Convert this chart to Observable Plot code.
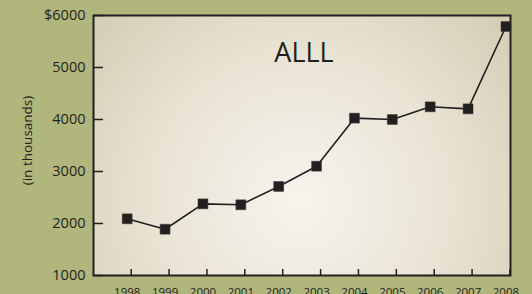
<!DOCTYPE html>
<html>
<head>
<meta charset="utf-8">
<script src="https://cdn.jsdelivr.net/npm/d3@7"></script>
<script src="https://cdn.jsdelivr.net/npm/@observablehq/plot@0.6"></script>
<style>
  html, body { margin: 0; padding: 0; background: #b1b67c; }
  #chart { width: 532px; height: 294px; overflow: hidden; }
</style>
</head>
<body>
<div id="chart"></div>
<script>
const years = [1998, 1999, 2000, 2001, 2002, 2003, 2004, 2005, 2006, 2007, 2008];
const values = [2090, 1890, 2378, 2360, 2712, 3102, 4026, 4000, 4244, 4205, 5788];
const yTicks = [1000, 2000, 3000, 4000, 5000, 6000];
const chartTitle = "ALLL";
const yLabel = "(in thousands)";

const data = years.map((y, i) => ({year: y, value: values[i]}));
const ink = "#231f20";
const font = "'Open Sans', sans-serif";

const plot = Plot.plot({
  width: 532,
  height: 294,
  marginLeft: 93,
  marginRight: 22,
  marginTop: 15,
  marginBottom: 19,
  style: {background: "transparent", fontFamily: font, color: ink},
  x: {type: "linear", domain: [1997.11, 2008.12], label: null},
  y: {domain: [1000, 6000], label: null},
  marks: [
    Plot.frame({fill: "url(#plotGrad)", stroke: "none"}),
    // x ticks (slightly right of points, as in the reference)
    Plot.axisX({ticks: years, tickSize: -6, dx: 4, text: null, label: null, stroke: ink, strokeWidth: 1.5}),
    Plot.axisX({ticks: years, tickSize: 0, tickPadding: 12, label: null, tickFormat: d => String(d), fontSize: 11.5, fill: ink}),
    // y ticks
    Plot.axisY({ticks: yTicks, tickSize: -10, text: null, label: null, stroke: ink, strokeWidth: 1.5}),
    Plot.axisY({ticks: yTicks, tickSize: 0, tickPadding: 8, label: null, tickFormat: d => d === 6000 ? "$6000" : String(d), fontSize: 14.5, fill: ink}),
    Plot.frame({stroke: ink, strokeWidth: 2}),
    Plot.line(data, {x: "year", y: "value", stroke: ink, strokeWidth: 1.6}),
    Plot.dot(data, {x: "year", y: "value", symbol: "square", r: 5.6, fill: ink, stroke: "#3b3634", strokeWidth: 0.5}),
    Plot.text([chartTitle], {frameAnchor: "top", dy: 38, dx: 2, fontSize: 27, fill: ink, lineAnchor: "middle", text: d => d, style: {letterSpacing: "4px"}}),
    Plot.text([yLabel], {frameAnchor: "left", dx: -66, dy: -5, rotate: -90, fontSize: 13.5, fill: ink, textAnchor: "middle", lineAnchor: "middle", text: d => d})
  ]
});

const defs = d3.create("svg:defs");
const g = defs.append("radialGradient")
  .attr("id", "plotGrad")
  .attr("gradientUnits", "userSpaceOnUse")
  .attr("cx", 300).attr("cy", 200).attr("r", 270);
g.append("stop").attr("offset", "0%").attr("stop-color", "#f7f4ee");
g.append("stop").attr("offset", "55%").attr("stop-color", "#e9e3d4");
g.append("stop").attr("offset", "100%").attr("stop-color", "#d6cdb5");
plot.insertBefore(defs.node(), plot.firstChild);

document.getElementById("chart").appendChild(plot);
</script>
</body>
</html>
